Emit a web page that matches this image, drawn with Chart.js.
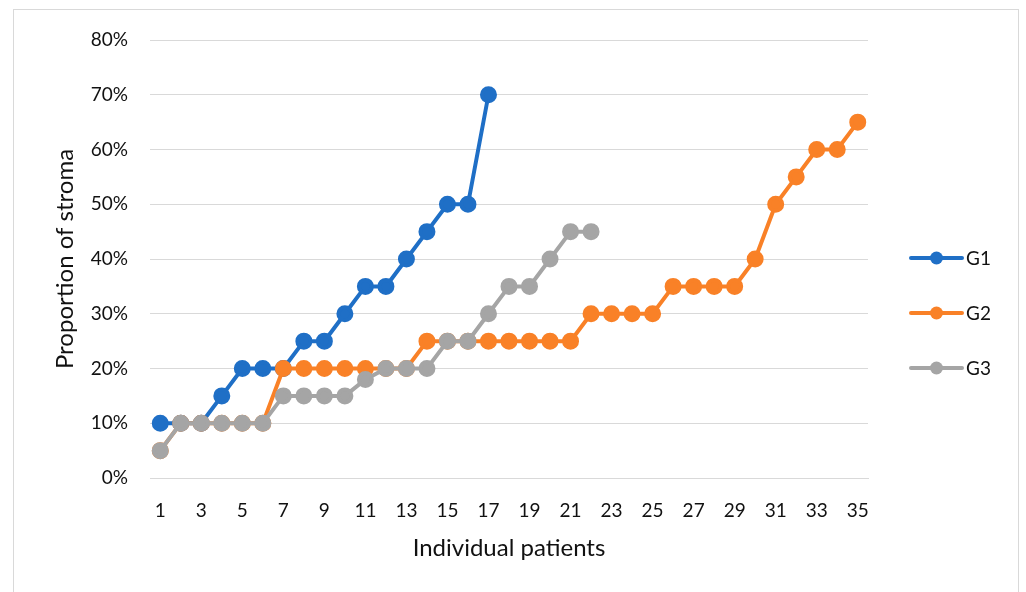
<!DOCTYPE html>
<html>
<head>
<meta charset="utf-8">
<script src="https://cdn.jsdelivr.net/npm/chart.js@4"></script>
<style>
  html, body { margin: 0; padding: 0; background: #fff; }
  #wrap { position: relative; width: 1026px; height: 592px; }
  #frame { position: absolute; left: 13px; top: 9px; width: 1006px; height: 590px; border: 1px solid #d9d9d9; box-sizing: border-box; }
  canvas { position: absolute; left: 0; top: 0; }
</style>
</head>
<body>
<div id="wrap">
  <div id="frame"></div>
  <canvas id="c" width="1026" height="592"></canvas>
</div>
<script>
// Patient index along the x axis
const patients = Array.from({ length: 35 }, (_, i) => String(i + 1));

// Proportion of stroma (%) per patient, sorted ascending within each group
const g1 = [10, 10, 10, 15, 20, 20, 20, 25, 25, 30, 35, 35, 40, 45, 50, 50, 70];
const g2 = [5, 10, 10, 10, 10, 10, 20, 20, 20, 20, 20, 20, 20, 25, 25, 25, 25, 25, 25, 25,
            25, 30, 30, 30, 30, 35, 35, 35, 35, 40, 50, 55, 60, 60, 65];
const g3 = [5, 10, 10, 10, 10, 10, 15, 15, 15, 15, 18, 20, 20, 20, 25, 25, 30, 35, 35, 40, 45, 45];

const seriesNames = ['G1', 'G2', 'G3'];
const seriesColors = ['#1f6fc6', '#f98127', '#a5a5a5'];
const yTicks = [0, 10, 20, 30, 40, 50, 60, 70, 80];

const FONT = 'Lato, "Open Sans", sans-serif';
const TEXT = '#111111';

function ds(label, data, color, order) {
  return {
    label, data, order,
    borderColor: color, backgroundColor: color,
    pointBackgroundColor: color, pointBorderColor: color,
    borderWidth: 4, pointRadius: 6.5, pointHoverRadius: 6.5,
    tension: 0, fill: false
  };
}

// Legend drawn as line-with-marker samples, stacked at the right
const sideLegend = {
  id: 'sideLegend',
  afterDraw(chart) {
    const ctx = chart.ctx;
    const ys = [258, 313, 368];
    chart.data.datasets.forEach((d, i) => {
      const y = ys[i];
      ctx.save();
      ctx.strokeStyle = d.borderColor;
      ctx.lineWidth = 4;
      ctx.lineCap = 'round';
      ctx.beginPath();
      ctx.moveTo(911, y);
      ctx.lineTo(962, y);
      ctx.stroke();
      ctx.fillStyle = d.borderColor;
      ctx.beginPath();
      ctx.arc(936.5, y, 6.5, 0, Math.PI * 2);
      ctx.fill();
      ctx.fillStyle = TEXT;
      ctx.font = '19px ' + FONT;
      ctx.textBaseline = 'middle';
      ctx.textAlign = 'left';
      ctx.fillText(d.label, 966, y + 1);
      ctx.restore();
    });
  }
};

new Chart(document.getElementById('c'), {
  type: 'line',
  data: {
    labels: patients,
    datasets: [
      ds(seriesNames[0], g1, seriesColors[0], 2),
      ds(seriesNames[1], g2, seriesColors[1], 1),
      ds(seriesNames[2], g3, seriesColors[2], 0)
    ]
  },
  options: {
    responsive: false,
    animation: false,
    layout: { padding: { left: 0, right: 158, top: 40, bottom: 0 } },
    plugins: { legend: { display: false }, tooltip: { enabled: false } },
    scales: {
      x: {
        offset: true,
        grid: { display: false, drawTicks: false },
        border: { display: true, color: '#d9d9d9', width: 1 },
        ticks: {
          color: TEXT, font: { family: FONT, size: 19 }, padding: 21,
          maxRotation: 0, autoSkip: false,
          callback: (v, i) => (i % 2 === 0 ? patients[i] : '')
        },
        title: { display: true, text: 'Individual patients', color: TEXT,
                 font: { family: FONT, size: 24 }, padding: { top: 8, bottom: 29 } },
        afterFit: s => { s.height = 114; }
      },
      y: {
        min: 0, max: 80,
        afterBuildTicks: s => { s.ticks = yTicks.map(v => ({ value: v })); },
        grid: { color: '#d9d9d9', lineWidth: 1, drawTicks: false },
        border: { display: false },
        ticks: { color: TEXT, font: { family: FONT, size: 19 }, padding: 22,
                 callback: v => v + '%' },
        title: { display: true, text: 'Proportion of stroma', color: TEXT,
                 font: { family: FONT, size: 24 }, padding: { top: 51, bottom: 0 } },
        afterFit: s => { s.width = 150; }
      }
    }
  },
  plugins: [sideLegend]
});
</script>
</body>
</html>
